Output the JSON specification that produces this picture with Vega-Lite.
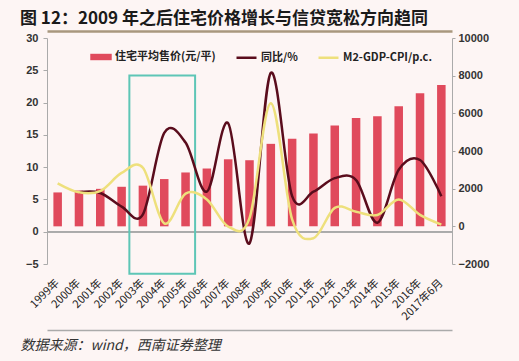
{
  "$schema": "https://vega.github.io/schema/vega-lite/v6.json",
  "autosize": "none",
  "width": 405,
  "height": 226,
  "padding": {"left": 47, "top": 38, "right": 67, "bottom": 97},
  "background": "#fdf5f4",
  "title": {
    "text": "图 12：2009 年之后住宅价格增长与信贷宽松方向趋同",
    "anchor": "start",
    "frame": "group",
    "font": "Noto Sans CJK SC",
    "fontSize": 17,
    "fontWeight": "bold",
    "color": "#1a1a1a",
    "dx": -27,
    "dy": 14,
    "offset": 4,
    "baseline": "alphabetic"
  },
  "config": {
    "view": {"stroke": null},
    "axis": {"grid": false},
    "legend": {
      "orient": "none",
      "direction": "horizontal",
      "labelFont": "Noto Sans CJK SC",
      "labelFontSize": 11,
      "labelFontWeight": "bold",
      "labelColor": "#222222",
      "labelOffset": 3,
      "title": null
    }
  },
  "datasets": {
    "main": [
      {"year": "1999年", "price": 1800, "yoy": null, "m2": 7.5},
      {"year": "2000年", "price": 1900, "yoy": 6.1, "m2": 6.1},
      {"year": "2001年", "price": 1990, "yoy": 6.0, "m2": 6.3},
      {"year": "2002年", "price": 2100, "yoy": 3.9, "m2": 9.1},
      {"year": "2003年", "price": 2160, "yoy": 2.7, "m2": 9.9},
      {"year": "2004年", "price": 2510, "yoy": 15.3, "m2": 1.3},
      {"year": "2005年", "price": 2860, "yoy": 13.8, "m2": 5.9},
      {"year": "2006年", "price": 3070, "yoy": 6.2, "m2": 5.0},
      {"year": "2007年", "price": 3560, "yoy": 16.8, "m2": 0.8},
      {"year": "2008年", "price": 3510, "yoy": -1.8, "m2": 2.1},
      {"year": "2009年", "price": 4380, "yoy": 24.6, "m2": 19.9},
      {"year": "2010年", "price": 4650, "yoy": 5.5, "m2": 1.9},
      {"year": "2011年", "price": 4930, "yoy": 6.2, "m2": -1.0},
      {"year": "2012年", "price": 5350, "yoy": 8.3, "m2": 3.7},
      {"year": "2013年", "price": 5750, "yoy": 8.0, "m2": 3.1},
      {"year": "2014年", "price": 5840, "yoy": 1.4, "m2": 2.6},
      {"year": "2015年", "price": 6370, "yoy": 9.6, "m2": 5.0},
      {"year": "2016年", "price": 7070, "yoy": 11.1, "m2": 2.6},
      {"year": "2017年6月", "price": 7510, "yoy": 5.5, "m2": 1.1}
    ],
    "box": [
      {"from": "2003年", "to": "2005年", "top": 24.2, "bottom": -6.5}
    ]
  },
  "data": {"name": "main"},
  "layer": [
    {
      "mark": {"type": "bar", "color": "#e04a5c"},
      "encoding": {
        "x": {
          "field": "year",
          "type": "ordinal",
          "scale": {"paddingInner": 0.6, "paddingOuter": 0.3},
          "axis": {
            "title": null,
            "domain": false,
            "ticks": false,
            "labelAngle": -45,
            "labelAlign": "right",
            "labelBaseline": "middle",
            "labelPadding": 17,
            "labelFont": "Noto Sans CJK SC",
            "labelFontSize": 11,
            "labelColor": "#222222"
          }
        },
        "y": {
          "field": "price",
          "type": "quantitative",
          "scale": {"domain": [-2000, 10000], "nice": false, "zero": false},
          "axis": {
            "orient": "right",
            "title": null,
            "format": "d",
            "values": [-2000, 0, 2000, 4000, 6000, 8000, 10000],
            "domainColor": "#aaaaaa",
            "tickColor": "#aaaaaa",
            "tickSize": 3,
            "labelPadding": 3,
            "labelFont": "Liberation Sans",
            "labelFontSize": 11,
            "labelFontWeight": "bold",
            "labelColor": "#333333"
          }
        },
        "fill": {
          "datum": "住宅平均售价(元/平)",
          "scale": {"domain": ["住宅平均售价(元/平)"], "range": ["#e04a5c"]},
          "legend": {
            "legendX": 43,
            "legendY": 8,
            "symbolType": "M-1,-0.3H1V0.3H-1Z",
            "symbolSize": 460,
            "symbolStrokeWidth": 0
          }
        }
      }
    },
    {
      "mark": {"type": "rule", "color": "#aaaaaa", "strokeWidth": 1},
      "encoding": {
        "y": {
          "datum": 0,
          "type": "quantitative",
          "scale": {"domain": [-5, 30], "nice": false, "zero": false},
          "axis": null
        }
      }
    },
    {
      "data": {"name": "box"},
      "mark": {"type": "rect", "fill": null, "stroke": "#5ec6b6", "strokeWidth": 2, "clip": false},
      "encoding": {
        "x": {"field": "from", "type": "ordinal", "bandPosition": -1.09, "axis": null},
        "x2": {"field": "to", "bandPosition": 1.62},
        "y": {
          "field": "top",
          "type": "quantitative",
          "scale": {"domain": [-5, 30], "nice": false, "zero": false},
          "axis": null
        },
        "y2": {"field": "bottom"}
      }
    },
    {
      "mark": {"type": "line", "interpolate": "cardinal", "strokeWidth": 2.5},
      "encoding": {
        "x": {
          "field": "year",
          "type": "ordinal",
          "axis": {
            "orient": "top",
            "title": null,
            "labels": false,
            "ticks": false,
            "offset": 7,
            "domainColor": "#a8977e",
            "domainWidth": 2.5
          }
        },
        "y": {
          "field": "yoy",
          "type": "quantitative",
          "scale": {"domain": [-5, 30], "nice": false, "zero": false},
          "axis": {
            "title": null,
            "values": [-5, 0, 5, 10, 15, 20, 25, 30],
            "domainColor": "#aaaaaa",
            "tickColor": "#aaaaaa",
            "tickSize": 4,
            "labelPadding": 5,
            "labelFont": "Liberation Sans",
            "labelFontSize": 11,
            "labelFontWeight": "bold",
            "labelColor": "#333333"
          }
        },
        "stroke": {
          "datum": "同比/%",
          "scale": {"domain": ["同比/%", "M2-GDP-CPI/p.c."], "range": ["#5a0c1c", "#eee07c"]},
          "legend": {
            "legendX": 188,
            "legendY": 8,
            "symbolType": "stroke",
            "symbolSize": 400,
            "symbolStrokeWidth": 2.5,
            "columnPadding": 15
          }
        }
      }
    },
    {
      "mark": {"type": "line", "interpolate": "cardinal", "strokeWidth": 2.5},
      "encoding": {
        "x": {
          "field": "year",
          "type": "ordinal",
          "axis": {
            "orient": "bottom",
            "title": "数据来源：wind，西南证券整理",
            "labels": false,
            "ticks": false,
            "offset": 66,
            "domainColor": "#aaaaaa",
            "domainWidth": 1.5,
            "titleX": -27,
            "titleY": 15,
            "titleAlign": "left",
            "titleAnchor": null,
            "titleBaseline": "middle",
            "titleFont": "Noto Sans CJK SC",
            "titleFontSize": 14,
            "titleFontStyle": "italic",
            "titleFontWeight": "normal",
            "titleColor": "#333333"
          }
        },
        "y": {
          "field": "m2",
          "type": "quantitative",
          "scale": {"domain": [-5, 30], "nice": false, "zero": false},
          "axis": null
        },
        "stroke": {"datum": "M2-GDP-CPI/p.c."}
      }
    }
  ],
  "resolve": {
    "scale": {"y": "independent"},
    "axis": {"x": "independent", "y": "independent"}
  }
}
